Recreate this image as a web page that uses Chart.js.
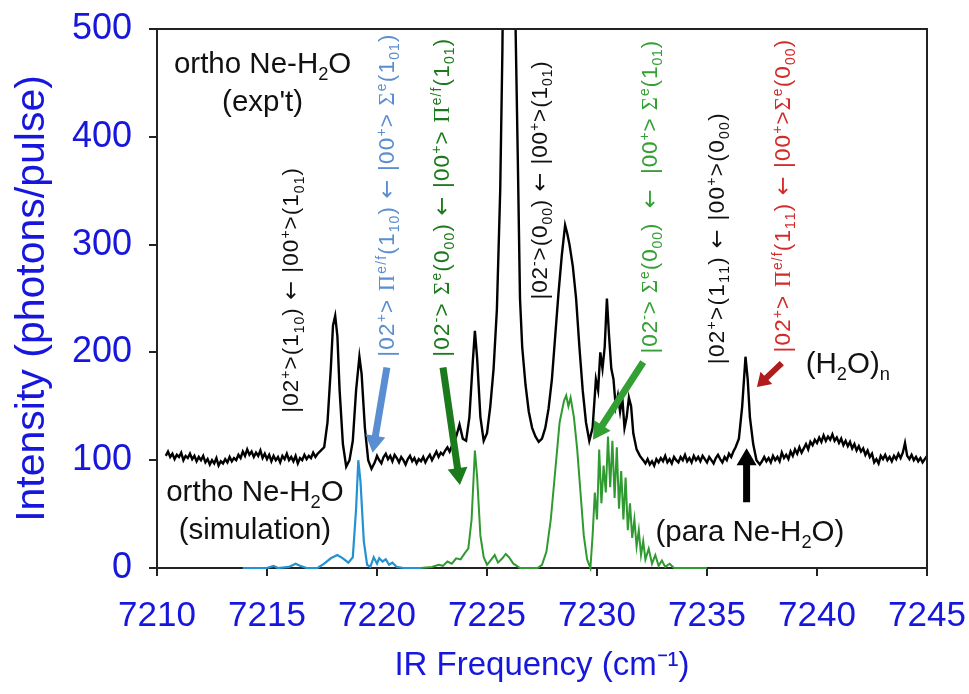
<!DOCTYPE html>
<html>
<head>
<meta charset="utf-8">
<script src="https://cdn.jsdelivr.net/npm/chart.js@4.4.1/dist/chart.umd.min.js"></script>
<style>
  html, body { margin: 0; padding: 0; background: #fff; }
  canvas { display: block; }
</style>
</head>
<body>
<canvas id="spectrum" width="969" height="694"></canvas>
<script>
// experimental ortho Ne-H2O spectrum (black): [frequency cm-1, photons/pulse]
const expPoints = [
  [7210.4, 104], [7210.5, 108], [7210.6, 103], [7210.7, 106], [7210.8, 101], [7210.9, 105],
  [7211.0, 103], [7211.1, 107], [7211.2, 100], [7211.3, 104], [7211.4, 102], [7211.5, 106],
  [7211.6, 101], [7211.7, 104], [7211.8, 99], [7211.9, 103], [7212.0, 100], [7212.1, 104],
  [7212.2, 98], [7212.3, 101], [7212.4, 96], [7212.5, 100], [7212.6, 97], [7212.7, 102],
  [7212.8, 95], [7212.9, 99], [7213.0, 97], [7213.1, 101], [7213.2, 98], [7213.3, 103],
  [7213.4, 99], [7213.5, 102], [7213.6, 100], [7213.7, 105], [7213.8, 102], [7213.9, 108],
  [7214.0, 104], [7214.1, 110], [7214.2, 105], [7214.3, 108], [7214.4, 103], [7214.5, 107],
  [7214.6, 104], [7214.7, 109], [7214.8, 102], [7214.9, 106], [7215.0, 101], [7215.1, 105],
  [7215.2, 99], [7215.3, 104], [7215.4, 100], [7215.5, 103], [7215.6, 98], [7215.7, 104],
  [7215.8, 101], [7215.9, 106], [7216.0, 100], [7216.1, 103], [7216.2, 99], [7216.3, 104],
  [7216.4, 97], [7216.5, 102], [7216.6, 100], [7216.7, 105], [7216.8, 101], [7216.9, 104],
  [7217.0, 102], [7217.1, 107], [7217.2, 103], [7217.3, 106], [7217.4, 108], [7217.5, 110],
  [7217.6, 112], [7217.75, 135], [7217.9, 185], [7218.0, 225], [7218.1, 234], [7218.2, 215],
  [7218.3, 165], [7218.45, 115], [7218.6, 94], [7218.75, 100], [7218.9, 118], [7219.05, 165],
  [7219.2, 196], [7219.3, 180], [7219.45, 130], [7219.6, 100], [7219.75, 92], [7219.9, 98],
  [7220.0, 104], [7220.1, 100], [7220.2, 97], [7220.3, 103], [7220.4, 106], [7220.5, 101],
  [7220.6, 104], [7220.7, 99], [7220.8, 105], [7220.9, 102], [7221.0, 98], [7221.1, 103],
  [7221.2, 100], [7221.3, 96], [7221.4, 101], [7221.5, 104], [7221.6, 99], [7221.7, 102],
  [7221.8, 97], [7221.9, 101], [7222.0, 99], [7222.1, 103], [7222.2, 98], [7222.3, 102],
  [7222.4, 105], [7222.5, 100], [7222.6, 104], [7222.7, 108], [7222.8, 103], [7222.9, 107],
  [7223.0, 105], [7223.1, 109], [7223.2, 112], [7223.3, 108], [7223.4, 113], [7223.5, 118],
  [7223.6, 122], [7223.75, 133], [7223.9, 120], [7224.05, 118], [7224.2, 140], [7224.35, 190],
  [7224.45, 220], [7224.55, 195], [7224.7, 140], [7224.85, 118], [7225.0, 125], [7225.15, 150],
  [7225.3, 185], [7225.45, 240], [7225.6, 350], [7225.7, 480], [7225.8, 700], [7226.0, 1000],
  [7226.2, 700], [7226.3, 500], [7226.4, 380], [7226.5, 250], [7226.6, 205], [7226.75, 170],
  [7226.9, 145], [7227.05, 130], [7227.2, 122], [7227.35, 117], [7227.5, 120], [7227.65, 130],
  [7227.8, 148], [7227.95, 175], [7228.1, 215], [7228.25, 255], [7228.4, 290], [7228.55, 318],
  [7228.65, 310], [7228.75, 300], [7228.9, 280], [7229.05, 250], [7229.2, 205], [7229.35, 165],
  [7229.5, 135], [7229.65, 118], [7229.8, 130], [7229.95, 175], [7230.05, 165], [7230.15, 200],
  [7230.25, 185], [7230.35, 205], [7230.45, 250], [7230.55, 215], [7230.65, 185], [7230.75, 175],
  [7230.85, 150], [7230.95, 160], [7231.05, 145], [7231.15, 158], [7231.25, 130], [7231.35, 140],
  [7231.45, 158], [7231.55, 150], [7231.65, 125], [7231.8, 110], [7231.95, 104], [7232.1, 100],
  [7232.2, 97], [7232.3, 101], [7232.4, 96], [7232.5, 99], [7232.6, 95], [7232.7, 101],
  [7232.8, 98], [7232.9, 102], [7233.0, 99], [7233.1, 104], [7233.2, 98], [7233.3, 101],
  [7233.4, 97], [7233.5, 103], [7233.6, 100], [7233.7, 98], [7233.8, 103], [7233.9, 100],
  [7234.0, 105], [7234.1, 99], [7234.2, 102], [7234.3, 98], [7234.4, 104], [7234.5, 100],
  [7234.6, 103], [7234.7, 99], [7234.8, 104], [7234.9, 101], [7235.0, 98], [7235.1, 103],
  [7235.2, 100], [7235.3, 97], [7235.4, 102], [7235.5, 105], [7235.6, 101], [7235.7, 98],
  [7235.8, 103], [7235.9, 100], [7236.0, 106], [7236.1, 103], [7236.2, 108], [7236.3, 112],
  [7236.45, 120], [7236.6, 150], [7236.75, 196], [7236.85, 175], [7236.95, 140], [7237.1, 115],
  [7237.25, 100], [7237.4, 96], [7237.5, 99], [7237.6, 103], [7237.7, 99], [7237.8, 102],
  [7237.9, 98], [7238.0, 104], [7238.1, 100], [7238.2, 103], [7238.3, 99], [7238.4, 107],
  [7238.5, 102], [7238.6, 105], [7238.7, 101], [7238.8, 108], [7238.9, 104], [7239.0, 110],
  [7239.1, 106], [7239.2, 112], [7239.3, 107], [7239.4, 111], [7239.5, 115], [7239.6, 110],
  [7239.7, 117], [7239.8, 114], [7239.9, 119], [7240.0, 116], [7240.1, 121], [7240.2, 117],
  [7240.3, 123], [7240.4, 118], [7240.5, 122], [7240.6, 119], [7240.7, 124], [7240.8, 118],
  [7240.9, 121], [7241.0, 116], [7241.1, 120], [7241.2, 114], [7241.3, 118], [7241.4, 113],
  [7241.5, 117], [7241.6, 111], [7241.7, 115], [7241.8, 109], [7241.9, 113], [7242.0, 108],
  [7242.1, 111], [7242.2, 105], [7242.3, 109], [7242.4, 103], [7242.5, 106], [7242.6, 98],
  [7242.7, 101], [7242.8, 97], [7242.9, 104], [7243.0, 101], [7243.1, 105], [7243.2, 100],
  [7243.3, 103], [7243.4, 99], [7243.5, 104], [7243.6, 101], [7243.7, 106], [7243.8, 102],
  [7243.9, 107], [7244.0, 116], [7244.1, 104], [7244.2, 101], [7244.3, 105], [7244.4, 100],
  [7244.5, 103], [7244.6, 99], [7244.7, 102], [7244.8, 98], [7244.9, 101], [7245.0, 104]
];

// simulation, ortho Ne-H2O (blue part)
const bluePoints = [
  [7213.9, 0], [7215.0, 0], [7215.3, 2], [7215.5, 0], [7216.0, 1], [7216.3, 4], [7216.5, 2],
  [7216.8, 0], [7217.3, 0], [7217.6, 4], [7217.9, 9], [7218.2, 12], [7218.45, 9], [7218.7, 5],
  [7218.9, 10], [7219.05, 55], [7219.15, 100], [7219.25, 80], [7219.4, 25], [7219.55, 3],
  [7219.7, 1], [7219.85, 10], [7220.0, 4], [7220.1, 9], [7220.25, 6], [7220.4, 8], [7220.55, 3],
  [7220.7, 5], [7220.9, 1], [7221.2, 0], [7222.0, 0]
];

// simulation, ortho Ne-H2O (green part)
const greenPoints = [
  [7222.0, 0], [7222.5, 1], [7222.8, 3], [7223.0, 2], [7223.2, 6], [7223.4, 4], [7223.6, 9],
  [7223.8, 8], [7224.0, 14], [7224.15, 18], [7224.3, 45], [7224.45, 109], [7224.55, 85],
  [7224.7, 30], [7224.85, 10], [7225.0, 3], [7225.2, 8], [7225.35, 12], [7225.5, 5], [7225.7, 9],
  [7225.85, 13], [7226.0, 10], [7226.2, 4], [7226.5, 0], [7227.3, 0], [7227.5, 3], [7227.7, 15],
  [7227.9, 45], [7228.1, 90], [7228.3, 135], [7228.5, 155], [7228.6, 160], [7228.7, 150],
  [7228.8, 158], [7228.95, 140], [7229.1, 110], [7229.25, 70], [7229.4, 30], [7229.55, 8],
  [7229.7, 0], [7229.8, 30], [7229.9, 70], [7230.0, 45], [7230.1, 110], [7230.2, 60], [7230.3, 95],
  [7230.4, 70], [7230.5, 122], [7230.6, 75], [7230.7, 118], [7230.8, 65], [7230.9, 112],
  [7231.0, 55], [7231.1, 90], [7231.2, 45], [7231.3, 84], [7231.4, 35], [7231.5, 60], [7231.6, 28],
  [7231.7, 45], [7231.8, 20], [7231.9, 35], [7232.0, 12], [7232.1, 25], [7232.2, 8], [7232.35, 18],
  [7232.5, 4], [7232.65, 12], [7232.8, 2], [7232.95, 7], [7233.1, 1], [7233.3, 4], [7233.5, 0],
  [7235.0, 0]
];

const FONT = '"Liberation Sans", Arial, sans-serif';
const GREEK = '"Liberation Serif", "DejaVu Serif", serif';
const ARROWFONT = '"DejaVu Sans", sans-serif';
const AXIS_BLUE = '#1616dc';

// rotated transition labels: x = frequency, y0/y1 = bottom/top in intensity units
const rotLabels = [
  { text: '|02^+>(1_{10}) ← |00^+>(1_{01})', x: 7216.05, y0: 144, y1: 372, color: '#111' },
  { text: '|02^+> Π^{e/f}(1_{10}) ← |00^+> Σ^e(1_{01})', x: 7220.4, y0: 196, y1: 496, color: '#5b8ed0' },
  { text: '|02^-> Σ^e(0_{00}) ← |00^+> Π^{e/f}(1_{01})', x: 7222.9, y0: 196, y1: 492, color: '#1b7a1b' },
  { text: '|02^->(0_{00}) ← |00^+>(1_{01})', x: 7227.36, y0: 249, y1: 471, color: '#111' },
  { text: '|02^-> Σ^e(0_{00})  ←  |00^+> Σ^e(1_{01})', x: 7232.36, y0: 199, y1: 490, color: '#34a034' },
  { text: '|02^+>(1_{11}) ← |00^+>(0_{00})', x: 7235.4, y0: 189, y1: 422, color: '#111' },
  { text: '|02^+> Π^{e/f}(1_{11}) ← |00^+>Σ^e(0_{00})', x: 7238.4, y0: 200, y1: 490, color: '#d42a2a' }
];

const textLabels = [
  { text: 'ortho Ne-H_2O', x: 7214.8, y: 469 },
  { text: "(exp't)", x: 7214.8, y: 434 },
  { text: 'ortho Ne-H_2O', x: 7214.45, y: 72 },
  { text: '(simulation)', x: 7214.45, y: 37 },
  { text: '(H_2O)_n', x: 7241.4, y: 191 },
  { text: '(para Ne-H_2O)', x: 7236.95, y: 35 }
];

// arrows: tail -> tip, in data units
const arrows = [
  { from: [7220.45, 186], to: [7219.8, 107], color: '#5b8ed0' },
  { from: [7223.0, 186], to: [7223.77, 77], color: '#1b7a1b' },
  { from: [7232.1, 191], to: [7229.82, 119], color: '#34a034' },
  { from: [7238.4, 190], to: [7237.27, 168], color: '#b01c1c', small: true },
  { from: [7236.8, 61], to: [7236.8, 111], color: '#000' }
];

function parseRich(s) {
  const segs = [];
  let buf = '', i = 0;
  while (i < s.length) {
    const c = s[i];
    if (c === '^' || c === '_') {
      if (buf) { segs.push({ t: buf, m: 0 }); buf = ''; }
      let t;
      if (s[i + 1] === '{') { const j = s.indexOf('}', i); t = s.slice(i + 2, j); i = j + 1; }
      else { t = s[i + 1]; i += 2; }
      segs.push({ t: t, m: c === '^' ? 1 : -1 });
    } else { buf += c; i++; }
  }
  if (buf) segs.push({ t: buf, m: 0 });
  return segs;
}

function pieces(str, size) {
  const out = [];
  parseRich(str).forEach(seg => {
    const fs = seg.m ? size * 0.62 : size;
    const dy = seg.m === 1 ? -size * 0.36 : (seg.m === -1 ? size * 0.24 : 0);
    seg.t.split(/([ΠΣ]+|←)/).forEach(part => {
      if (!part) return;
      let fam = FONT;
      if (/[ΠΣ]/.test(part)) fam = GREEK;
      if (part === '←') fam = ARROWFONT;
      out.push({ t: part, font: fs + 'px ' + fam, dy: dy });
    });
  });
  return out;
}

function charCount(ps) {
  return ps.reduce((n, p) => n + p.t.length, 0);
}

function richWidth(ctx, ps, sp) {
  let w = 0;
  ps.forEach(p => { ctx.font = p.font; w += ctx.measureText(p.t).width; });
  return w + (sp || 0) * charCount(ps);
}

// draws left-aligned, cy = visual centre line of the main text, sp = extra letter spacing
function drawPieces(ctx, ps, x, cy, size, sp) {
  ctx.textBaseline = 'alphabetic';
  ctx.textAlign = 'left';
  const base = cy + size * 0.36;
  ps.forEach(p => {
    ctx.font = p.font;
    if (!sp) {
      ctx.fillText(p.t, x, base + p.dy);
      x += ctx.measureText(p.t).width;
    } else {
      for (const ch of p.t) {
        ctx.fillText(ch, x, base + p.dy);
        x += ctx.measureText(ch).width + sp;
      }
    }
  });
}

function drawArrow(ctx, x1, y1, x2, y2, color, small) {
  const shaft = small ? 6 : 7, headL = small ? 13 : 17, headW = small ? 17 : 20;
  const ang = Math.atan2(y2 - y1, x2 - x1);
  const len = Math.hypot(x2 - x1, y2 - y1);
  ctx.save();
  ctx.translate(x1, y1);
  ctx.rotate(ang);
  ctx.fillStyle = color;
  ctx.beginPath();
  ctx.moveTo(0, -shaft / 2);
  ctx.lineTo(len - headL, -shaft / 2);
  ctx.lineTo(len - headL, -headW / 2);
  ctx.lineTo(len, 0);
  ctx.lineTo(len - headL, headW / 2);
  ctx.lineTo(len - headL, shaft / 2);
  ctx.lineTo(0, shaft / 2);
  ctx.closePath();
  ctx.fill();
  ctx.restore();
}

const annotate = {
  id: 'annotate',
  afterDatasetsDraw(chart) {
    const { ctx, chartArea: a } = chart;
    const xs = chart.scales.x, ys = chart.scales.y;
    ctx.save();
    // plot frame (top + right)
    ctx.strokeStyle = '#222';
    ctx.lineWidth = 2;
    ctx.beginPath();
    ctx.moveTo(a.left, a.top);
    ctx.lineTo(a.right, a.top);
    ctx.lineTo(a.right, a.bottom);
    ctx.stroke();

    rotLabels.forEach(l => {
      const px = xs.getPixelForValue(l.x);
      const pb = ys.getPixelForValue(l.y0), pt = ys.getPixelForValue(l.y1);
      const len = pb - pt;
      let size = 22.5;
      let ps = pieces(l.text, size);
      const w = richWidth(ctx, ps);
      if (w > len) { size = size * len / w; ps = pieces(l.text, size); }
      const sp = Math.max(0, Math.min(3, (len - richWidth(ctx, ps)) / charCount(ps)));
      ctx.save();
      ctx.translate(px, pb);
      ctx.rotate(-Math.PI / 2);
      ctx.fillStyle = l.color;
      drawPieces(ctx, ps, 0, 0, size, sp);
      ctx.restore();
    });

    ctx.fillStyle = '#111';
    textLabels.forEach(l => {
      const ps = pieces(l.text, 29.5);
      const w = richWidth(ctx, ps);
      drawPieces(ctx, ps, xs.getPixelForValue(l.x) - w / 2, ys.getPixelForValue(l.y), 29.5);
    });

    arrows.forEach(ar => {
      drawArrow(ctx, xs.getPixelForValue(ar.from[0]), ys.getPixelForValue(ar.from[1]),
        xs.getPixelForValue(ar.to[0]), ys.getPixelForValue(ar.to[1]), ar.color, ar.small);
    });
    ctx.restore();
  }
};

function toPoints(pairs) {
  return pairs.map(p => ({ x: p[0], y: p[1] }));
}

new Chart(document.getElementById('spectrum').getContext('2d'), {
  type: 'scatter',
  data: {
    datasets: [
      { label: 'exp', data: toPoints(expPoints), showLine: true, borderColor: '#000',
        borderWidth: 2.4, pointRadius: 0, tension: 0 },
      { label: 'sim blue', data: toPoints(bluePoints), showLine: true, borderColor: '#2391d2',
        borderWidth: 2.2, pointRadius: 0, tension: 0, clip: 4 },
      { label: 'sim green', data: toPoints(greenPoints), showLine: true, borderColor: '#2f9a2f',
        borderWidth: 2, pointRadius: 0, tension: 0, clip: 4 }
    ]
  },
  options: {
    responsive: false,
    animation: false,
    layout: { padding: { top: 29, right: 42, left: 0, bottom: 0 } },
    plugins: { legend: { display: false }, tooltip: { enabled: false } },
    scales: {
      x: {
        type: 'linear', min: 7210, max: 7245,
        afterFit: s => { s.height = 126; s.paddingLeft = 0; s.paddingRight = 0; },
        ticks: { stepSize: 5, color: AXIS_BLUE, padding: 19, font: { family: FONT, size: 35 },
          callback: v => String(v), maxRotation: 0 },
        grid: { drawOnChartArea: false, tickLength: 8, color: '#222', lineWidth: 2 },
        border: { color: '#222', width: 2 },
        title: { display: true, text: 'IR Frequency (cm⁻¹)', color: AXIS_BLUE,
          font: { family: FONT, size: 33 }, padding: { bottom: 8 } }
      },
      y: {
        min: 0, max: 500,
        afterFit: s => { s.width = 157; s.paddingTop = 0; s.paddingBottom = 0; },
        ticks: { stepSize: 100, color: AXIS_BLUE, padding: 17, font: { family: FONT, size: 36 } },
        grid: { drawOnChartArea: false, tickLength: 8, color: '#222', lineWidth: 2 },
        border: { color: '#222', width: 2 },
        title: { display: true, text: 'Intensity (photons/pulse)', color: AXIS_BLUE,
          font: { family: FONT, size: 41 }, padding: { top: 8 } }
      }
    }
  },
  plugins: [annotate]
});
</script>
</body>
</html>
